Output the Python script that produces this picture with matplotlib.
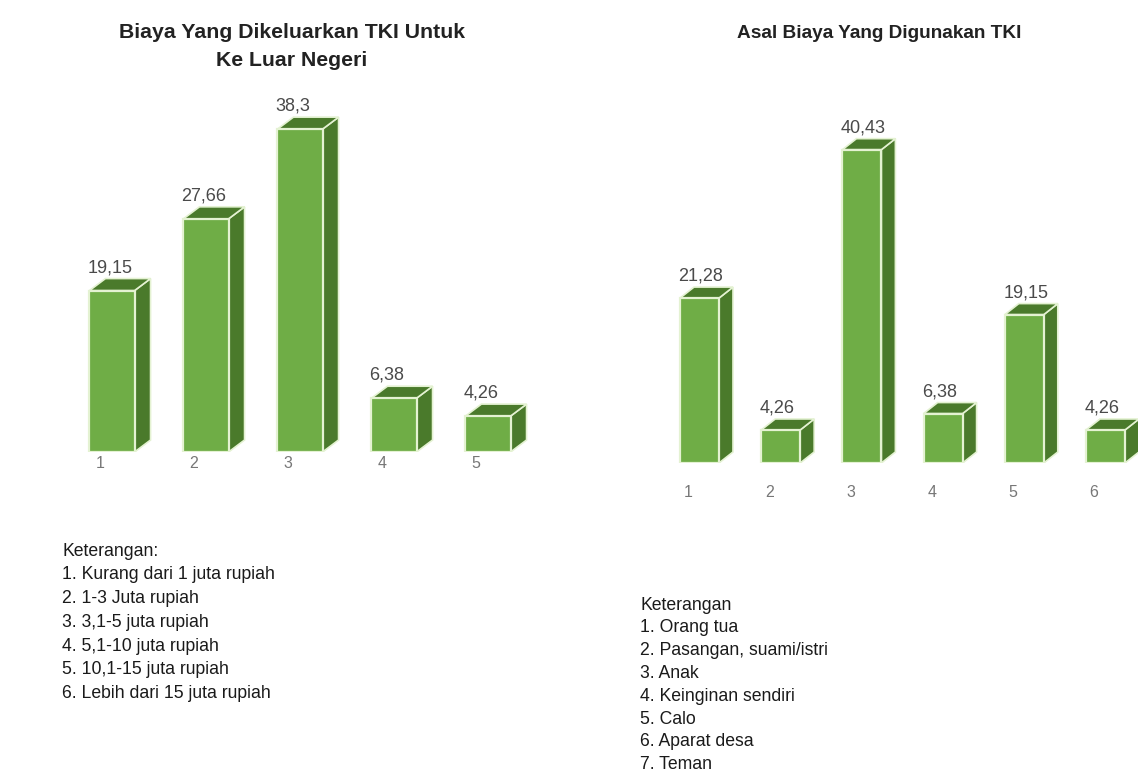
import matplotlib
matplotlib.use("Agg")
import matplotlib.pyplot as plt
from matplotlib.patches import Polygon
from matplotlib import font_manager

# ---------------- data ----------------
left_title = "Biaya Yang Dikeluarkan TKI Untuk\nKe Luar Negeri"
left_cats = ["1", "2", "3", "4", "5"]
left_vals = [19.15, 27.66, 38.3, 6.38, 4.26]
left_labels = ["19,15", "27,66", "38,3", "6,38", "4,26"]
left_legend = ["Keterangan:",
               "1. Kurang dari 1 juta rupiah",
               "2. 1-3 Juta rupiah",
               "3. 3,1-5 juta rupiah",
               "4. 5,1-10 juta rupiah",
               "5. 10,1-15 juta rupiah",
               "6. Lebih dari 15 juta rupiah"]

right_title = "Asal Biaya Yang Digunakan TKI"
right_cats = ["1", "2", "3", "4", "5", "6"]
right_vals = [21.28, 4.26, 40.43, 6.38, 19.15, 4.26]
right_labels = ["21,28", "4,26", "40,43", "6,38", "19,15", "4,26"]
right_legend = ["Keterangan",
                "1. Orang tua",
                "2. Pasangan, suami/istri",
                "3. Anak",
                "4. Keinginan sendiri",
                "5. Calo",
                "6. Aparat desa",
                "7. Teman"]

# ---------------- style ----------------
names = {f.name for f in font_manager.fontManager.ttflist}
narrow = "Liberation Sans Narrow" if "Liberation Sans Narrow" in names else "Liberation Sans"
FAM = [narrow, "DejaVu Sans"]

FRONT = "#6fad46"
DARK = "#4a7a2b"
EDGE = "#e4f2d2"

W, H = 1138, 774
fig = plt.figure(figsize=(W / 100, H / 100), dpi=100)


def px_axes(x0, y0_top, x1, y1_top):
    return fig.add_axes([x0 / W, 1 - y1_top / H, (x1 - x0) / W, (y1_top - y0_top) / H])


def draw_chart(ax, cats, vals, labels, xlim, ylim, depth_px, width):
    ax.set_xlim(*xlim)
    ax.set_ylim(*ylim)
    ax.axis("off")
    pos = list(range(1, len(vals) + 1))
    bbox = ax.get_position()
    ax_w = bbox.width * W
    ax_h = bbox.height * H
    dx = depth_px[0] / ax_w * (xlim[1] - xlim[0])
    dy = depth_px[1] / ax_h * (ylim[1] - ylim[0])
    bars = ax.bar(pos, vals, width=width, color=FRONT, edgecolor=EDGE,
                  linewidth=1.6, zorder=3)
    for b, v, lab in zip(bars, vals, labels):
        x0 = b.get_x()
        x1 = x0 + b.get_width()
        side = Polygon([(x1, 0), (x1 + dx, dy), (x1 + dx, v + dy), (x1, v)],
                       closed=True, facecolor=DARK, edgecolor=EDGE, linewidth=1.2, zorder=2)
        top = Polygon([(x0, v), (x0 + dx, v + dy), (x1 + dx, v + dy), (x1, v)],
                      closed=True, facecolor=DARK, edgecolor=EDGE, linewidth=1.2, zorder=2)
        ax.add_patch(side)
        ax.add_patch(top)
        ax.text(x0 - 0.02, v + dy * 1.2, lab, ha="left", va="bottom",
                fontsize=13, color="#4a4a4a", family=FAM)
    return pos


# Left chart
axL = px_axes(50, 100, 560, 452)
posL = draw_chart(axL, left_cats, left_vals, left_labels,
                  ((50 - 18) / 94, (560 - 18) / 94), (0, 352 / 8.43), (16, 12), 0.48)
for p, c in zip(posL, left_cats):
    axL.text(p - 0.13, -0.5, c, ha="center", va="top", fontsize=11.5,
             color="#777777", family=FAM)

# Right chart
axR = px_axes(640, 110, 1138, 463)
x0R = 699.5 - 81.2
posR = draw_chart(axR, right_cats, right_vals, right_labels,
                  ((640 - x0R) / 81.2, (1138 - x0R) / 81.2), (0, 353 / 7.75), (14, 11), 0.48)
for p, c in zip(posR, right_cats):
    axR.text(p - 0.14, -2.8, c, ha="center", va="top", fontsize=11.5,
             color="#777777", family=FAM)

# Titles
fig.text(292 / W, 1 - 46.5 / H, left_title, ha="center", va="center",
         fontsize=15.3, fontweight="bold", color="#222222", family=FAM, linespacing=1.55)
fig.text(879 / W, 1 - 33 / H, right_title, ha="center", va="center",
         fontsize=13.7, fontweight="bold", color="#222222", family=FAM)

# Legends (keterangan)
for i, line in enumerate(left_legend):
    fig.text(62 / W, 1 - (551 + i * 23.8) / H, line, ha="left", va="center",
             fontsize=12.7, color="#1a1a1a", family=FAM)
for i, line in enumerate(right_legend):
    fig.text(640 / W, 1 - (605 + i * 22.8) / H, line, ha="left", va="center",
             fontsize=12.7, color="#1a1a1a", family=FAM)

fig.savefig("out.png", dpi=100, facecolor="white")
